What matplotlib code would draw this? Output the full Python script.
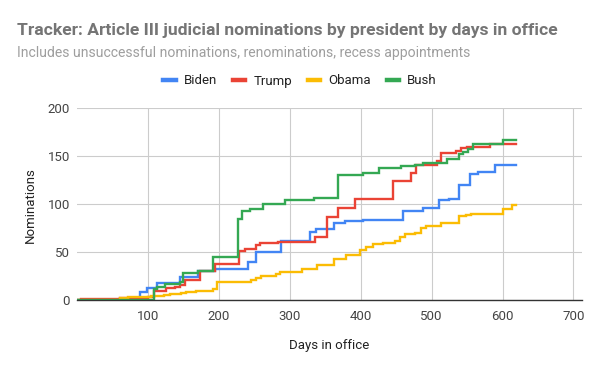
import matplotlib
matplotlib.use("Agg")
import matplotlib.pyplot as plt
from matplotlib.lines import Line2D

plt.rcParams['font.family'] = ['Roboto', 'DejaVu Sans']

# cumulative nominations by days in office
biden_days = [0, 89, 98, 113, 145, 171, 194, 241, 253, 287, 329, 337, 363, 378, 403,
              459, 488, 510, 525, 538, 554, 566, 589, 619]
biden_vals = [0, 8, 12, 18, 24, 30, 32, 40, 50, 61, 71, 74, 80, 82, 83,
              93, 96, 104, 105, 120, 131, 133, 141, 141]

trump_days = [0, 5, 60, 100, 108, 125, 138, 145, 152, 173, 194, 228, 237, 253, 258, 283,
              335, 352, 368, 392, 445, 471, 478, 507, 513, 535, 542, 550, 582, 619]
trump_vals = [0, 1, 2, 3, 9, 12, 14, 16, 21, 30, 38, 51, 53, 57, 59, 60,
              66, 86, 96, 105, 124, 132, 141, 145, 153, 155, 158, 159, 162, 162]

obama_days = [0, 60, 72, 105, 122, 131, 147, 154, 168, 192, 197, 246, 253, 260, 281, 286,
              317, 338, 363, 379, 399, 407, 417, 431, 448, 456, 463, 476, 485, 492, 513,
              539, 548, 556, 600, 614, 619]
obama_vals = [0, 2, 3, 4, 5, 6, 7, 8, 9, 11, 19, 21, 23, 25, 27, 29,
              32, 36, 43, 47, 52, 55, 58, 59, 61, 66, 69, 70, 75, 77, 80,
              87, 89, 90, 95, 99, 99]

bush_days = [0, 108, 113, 124, 145, 150, 171, 192, 227, 233, 244, 262, 293, 334, 368,
             403, 426, 457, 476, 488, 521, 539, 544, 551, 558, 600, 619]
bush_vals = [0, 11, 14, 17, 19, 28, 30, 45, 84, 93, 95, 100, 104, 106, 130,
             132, 138, 140, 141, 143, 147, 152, 154, 157, 163, 167, 167]

series = [("Biden", biden_days, biden_vals, "#4285F4"),
          ("Trump", trump_days, trump_vals, "#EA4335"),
          ("Obama", obama_days, obama_vals, "#FBBC04"),
          ("Bush", bush_days, bush_vals, "#34A853")]

fig = plt.figure(figsize=(6, 3.71), dpi=100)
ax = fig.add_axes([77/600, 1-300/371, 505/600, 192/371])

for name, d, v, c in series:
    ax.step(d, v, where="post", color=c, lw=1.7, solid_joinstyle="miter")

ax.set_xlim(0, 712)
ax.set_ylim(0, 200)
ax.set_xticks(range(100, 701, 100))
ax.set_yticks(range(0, 201, 50))
ax.grid(True, color="#cccccc", lw=0.8)
ax.set_axisbelow(True)
for s in ["top", "right", "left"]:
    ax.spines[s].set_visible(False)
ax.spines["bottom"].set_color("#333333")
ax.spines["bottom"].set_linewidth(1)
ax.tick_params(length=0, labelsize=9.5, labelcolor="#444444")
ax.tick_params(axis="x", pad=7)
ax.tick_params(axis="y", pad=5)

fig.text(30/600, 1-205/371, "Nominations", rotation=90, ha="center", va="center",
         fontsize=9.5, color="#222222")
fig.text(329/600, 1-345/371, "Days in office", ha="center", va="center",
         fontsize=9.5, color="#222222")

fig.text(17/600, 1-30/371, "Tracker: Article III judicial nominations by president by days in office",
         fontsize=12.6, fontweight="bold", color="#757575", va="center")
fig.text(17/600, 1-53/371, "Includes unsuccessful nominations, renominations, recess appointments",
         fontsize=10.1, color="#9e9e9e", va="center")

handles = [Line2D([], [], color=c, lw=3.2) for _, _, _, c in series]
fig.legend(handles, [s[0] for s in series], loc="center", bbox_to_anchor=(0.5, 1-81/371),
           ncol=4, frameon=False, fontsize=9.5, handlelength=0.95, handletextpad=0.6,
           columnspacing=1.2, labelcolor="#222222")

plt.savefig("out.png", dpi=100)
